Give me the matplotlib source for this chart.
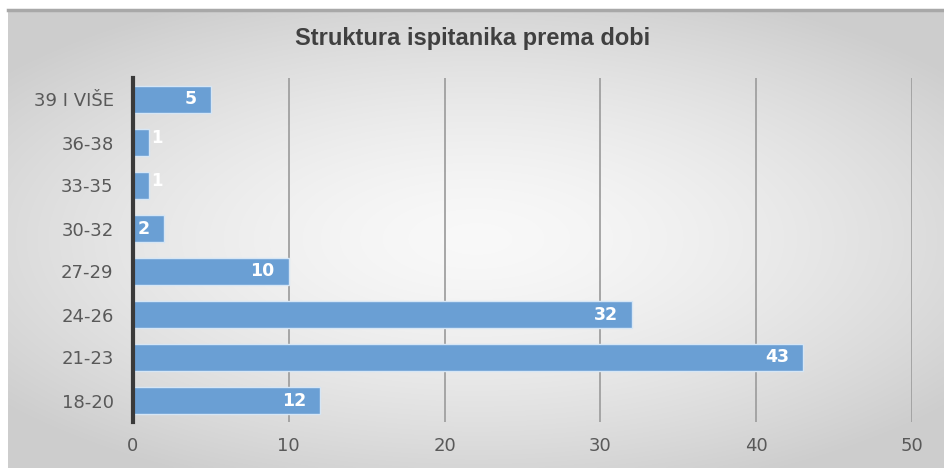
import numpy as np
import matplotlib
matplotlib.use("Agg")
import matplotlib.pyplot as plt

categories = ["18-20", "21-23", "24-26", "27-29", "30-32", "33-35", "36-38", "39 I VIŠE"]
values = [12, 43, 32, 10, 2, 1, 1, 5]
title = "Struktura ispitanika prema dobi"
xticks = [0, 10, 20, 30, 40, 50]

plt.rcParams['font.family'] = ['DejaVu Sans']

fig = plt.figure(figsize=(9.45, 4.68), dpi=100)
fig.patch.set_facecolor("white")

# background radial gradient panel
bg = fig.add_axes([8/945, 0, 1 - 8/945, 1 - 10/468])
ny, nx = 200, 400
yy, xx = np.mgrid[-1:1:ny*1j, -1:1:nx*1j]
r = np.sqrt((xx/1.0)**2 + (yy/0.9)**2)
shade = 0.975 - 0.17 * np.clip(r / 1.3, 0, 1)**1.5
img = np.dstack([shade, shade, shade])
bg.imshow(img, aspect="auto", extent=[0, 1, 0, 1], interpolation="bilinear")
bg.set_axis_off()
bg.plot([0, 1], [1, 1], color="#a8a8a8", lw=2.5, transform=bg.transAxes, clip_on=False)

ax = fig.add_axes([133/945, 46/468, 779/945, 344/468])
ax.patch.set_alpha(0)
y = np.arange(len(categories))
ax.barh(y, values, height=0.62, color="#6a9fd4", edgecolor="#d6e6f5", linewidth=1.0, zorder=3)
ax.set_xlim(0, 50)
ax.set_ylim(-0.5, len(categories) - 0.5)
ax.set_yticks(y)
ax.set_yticklabels(categories, fontsize=13, color="#595959")
ax.set_xticks(xticks)
ax.set_xticklabels([str(t) for t in xticks], fontsize=13, color="#595959")
ax.tick_params(axis="both", length=0)
ax.tick_params(axis="x", pad=11)
ax.tick_params(axis="y", pad=14)
for t in xticks[1:]:
    ax.axvline(t, color="#a0a0a0", lw=1.3, zorder=1)
for s in ["top", "right", "bottom"]:
    ax.spines[s].set_visible(False)
ax.spines["left"].set_color("#3a3a3a")
ax.spines["left"].set_linewidth(3)
ax.spines["left"].set_zorder(4)

for yi, v in zip(y, values):
    if v >= 2:
        ax.text(v - 0.9, yi, str(v), ha="right", va="center", fontsize=12.5,
                fontweight="bold", color="white", zorder=5)
    else:
        ax.text(v + 0.15, yi + 0.1, str(v), ha="left", va="center", fontsize=12,
                fontweight="bold", color="white", zorder=5)

fig.text(0.5, 1 - 39/468, title, ha="center", va="center", fontsize=17,
         fontweight="bold", color="#404040", family=["Liberation Sans Narrow", "Liberation Sans", "DejaVu Sans"])

fig.savefig("out.png", dpi=100)
